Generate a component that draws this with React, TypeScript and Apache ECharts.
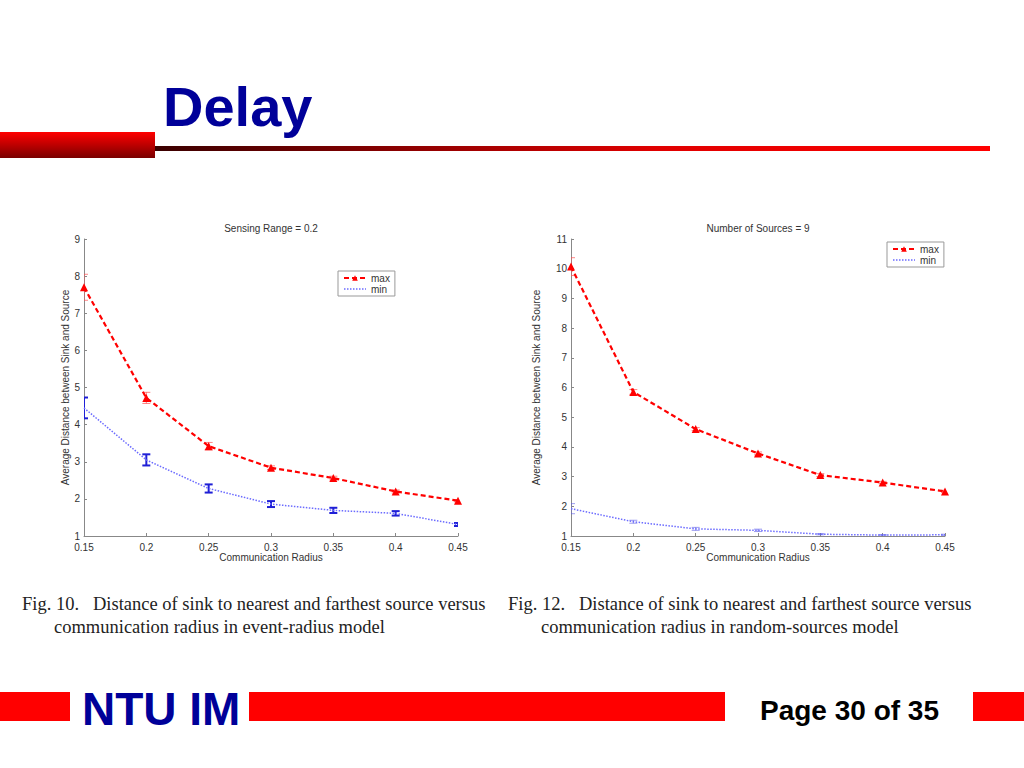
import React, { useEffect, useRef } from "react";
import * as echarts from "echarts";

// ---- data ----
const radius = [0.15, 0.2, 0.25, 0.3, 0.35, 0.4, 0.45];

const leftMax = [7.7, 4.72, 3.42, 2.84, 2.56, 2.2, 1.95];
const leftMaxErr = [0.35, 0.15, 0.1, 0.05, 0.05, 0.04, 0.03];
const leftMin = [4.45, 3.05, 2.28, 1.86, 1.69, 1.61, 1.31];
const leftMinErr = [0.28, 0.15, 0.11, 0.08, 0.07, 0.06, 0.04];

const rightMax = [10.07, 5.85, 4.6, 3.78, 3.05, 2.8, 2.5];
const rightMaxErr = [0.3, 0.08, 0.05, 0.05, 0.05, 0.04, 0.04];
const rightMin = [1.92, 1.48, 1.24, 1.19, 1.06, 1.03, 1.04];
const rightMinErr = [0.17, 0.05, 0.05, 0.04, 0.02, 0.02, 0.02];

const leftTitle = "Sensing Range = 0.2";
const rightTitle = "Number of Sources = 9";
const xName = "Communication Radius";
const yName = "Average Distance between Sink and Source";
const caption1 = [
  "Fig. 10.   Distance of sink to nearest and farthest source versus",
  "communication radius in event-radius model",
];
const caption2 = [
  "Fig. 12.   Distance of sink to nearest and farthest source versus",
  "communication radius in random-sources model",
];

const pairs = (ys: number[]) => radius.map((x, i) => [x, ys[i]]);
const errPairs = (ys: number[], es: number[]) =>
  radius.map((x, i) => [x, ys[i] - es[i], ys[i] + es[i]]);

const errSeries = (
  ys: number[],
  es: number[],
  idx: number,
  color: string,
  width: number
) => ({
  type: "custom",
  xAxisIndex: idx,
  yAxisIndex: idx,
  silent: true,
  z: 1,
  clip: true,
  data: errPairs(ys, es),
  renderItem: (params: any, api: any) => {
    const x = api.value(0);
    const p1 = api.coord([x, api.value(1)]);
    const p2 = api.coord([x, api.value(2)]);
    const w = 4;
    const style = { stroke: color, lineWidth: width };
    return {
      type: "group",
      children: [
        { type: "line", shape: { x1: p1[0], y1: p1[1], x2: p2[0], y2: p2[1] }, style },
        { type: "line", shape: { x1: p1[0] - w, y1: p1[1], x2: p1[0] + w, y2: p1[1] }, style },
        { type: "line", shape: { x1: p2[0] - w, y1: p2[1], x2: p2[0] + w, y2: p2[1] }, style },
      ],
    };
  },
});

const FS = 10;
const MIN_COLOR = "#6b6bff";
const axisCommon = {
  axisLine: { show: true, lineStyle: { color: "#888", width: 1 } },
  axisTick: { show: true, inside: true, length: 3, lineStyle: { color: "#888" } },
  splitLine: { show: false },
  axisLabel: { color: "#333", fontSize: FS, fontFamily: "Liberation Sans" },
  nameTextStyle: { color: "#333", fontSize: FS, fontFamily: "Liberation Sans" },
};

const xAxis = (idx: number) => ({
  ...axisCommon,
  type: "value",
  gridIndex: idx,
  min: 0.15,
  max: 0.45,
  interval: 0.05,
  name: xName,
  nameLocation: "middle",
  nameGap: 13,
  axisLabel: { ...axisCommon.axisLabel, margin: 6, formatter: (v: number) => String(+v.toFixed(2)) },
});

const yAxis = (idx: number, max: number, gap: number) => ({
  ...axisCommon,
  type: "value",
  gridIndex: idx,
  min: 1,
  max,
  interval: 1,
  name: yName,
  nameLocation: "middle",
  nameGap: gap,
  axisLabel: { ...axisCommon.axisLabel, margin: 4 },
});

const maxLine = (ys: number[], idx: number) => ({
  name: "max",
  type: "line",
  xAxisIndex: idx,
  yAxisIndex: idx,
  data: pairs(ys),
  symbol: "triangle",
  symbolSize: 8,
  z: 3,
  itemStyle: { color: "#ff0000" },
  lineStyle: { color: "#ff0000", width: 2.2, type: [5, 3] },
});

const minLine = (ys: number[], idx: number) => ({
  name: "min",
  type: "line",
  xAxisIndex: idx,
  yAxisIndex: idx,
  data: pairs(ys),
  symbol: "none",
  z: 2,
  itemStyle: { color: MIN_COLOR },
  lineStyle: { color: MIN_COLOR, width: 1.5, type: "dotted" },
});

const legend = (left: number, top: number) => ({
  data: [
    { name: "max" },
    {
      name: "min",
      itemStyle: { color: "transparent", borderColor: "transparent", borderWidth: 0 },
      lineStyle: { color: MIN_COLOR, width: 1.5, type: "dotted" },
    },
  ],
  left,
  top,
  orient: "vertical",
  borderColor: "#999",
  borderWidth: 1,
  backgroundColor: "#fff",
  padding: [2, 5],
  itemGap: 1,
  itemWidth: 22,
  itemHeight: 7,
  textStyle: { color: "#333", fontSize: FS, fontFamily: "Liberation Sans" },
});

const text = (
  t: string,
  x: number,
  y: number,
  font: string,
  fill: string,
  align: string = "left"
) => ({
  type: "text",
  x,
  y,
  style: { text: t, font, fill, align, verticalAlign: "middle" },
});

export default function App() {
  const ref = useRef<HTMLDivElement>(null);
  useEffect(() => {
    if (!ref.current) return;
    const chart = echarts.init(ref.current, null, { renderer: "svg" });
    const serif = '18.5px "Liberation Serif"';
    chart.setOption({
      animation: false,
      backgroundColor: "#fff",
      grid: [
        { left: 84, top: 239, width: 374, height: 297 },
        { left: 571, top: 239, width: 374, height: 297 },
      ],
      xAxis: [xAxis(0), xAxis(1)],
      yAxis: [yAxis(0, 9, 7), yAxis(1, 11, 30)],
      legend: [legend(338, 271), legend(887, 242)],
      series: [
        errSeries(leftMax, leftMaxErr, 0, "rgba(255,80,80,0.7)", 1),
        errSeries(leftMin, leftMinErr, 0, "#1f1fd6", 2),
        maxLine(leftMax, 0),
        minLine(leftMin, 0),
        errSeries(rightMax, rightMaxErr, 1, "rgba(255,80,80,0.7)", 1),
        errSeries(rightMin, rightMinErr, 1, "rgba(90,90,230,0.6)", 1),
        maxLine(rightMax, 1),
        minLine(rightMin, 1),
      ],
      graphic: [
        {
          type: "rect",
          shape: { x: 0, y: 132, width: 155, height: 26 },
          style: {
            fill: new echarts.graphic.LinearGradient(0, 0, 0, 1, [
              { offset: 0, color: "#ff0000" },
              { offset: 1, color: "#7a0000" },
            ]),
          },
        },
        {
          type: "rect",
          shape: { x: 155, y: 146, width: 835, height: 5 },
          style: {
            fill: new echarts.graphic.LinearGradient(0, 0, 1, 0, [
              { offset: 0, color: "#3a0000" },
              { offset: 0.6, color: "#e00000" },
              { offset: 1, color: "#ff0000" },
            ]),
          },
        },
        text("Delay", 163, 106, 'bold 56px "Liberation Sans"', "#000099"),
        text(leftTitle, 271, 228, FS + 'px "Liberation Sans"', "#333", "center"),
        text(rightTitle, 758, 228, FS + 'px "Liberation Sans"', "#333", "center"),
        text(caption1[0], 22, 604, serif, "#222"),
        text(caption1[1], 54, 627, serif, "#222"),
        text(caption2[0], 508, 604, serif, "#222"),
        text(caption2[1], 541, 627, serif, "#222"),
        { type: "rect", shape: { x: 0, y: 692, width: 70, height: 29 }, style: { fill: "#ff0000" } },
        { type: "rect", shape: { x: 249, y: 692, width: 476, height: 29 }, style: { fill: "#ff0000" } },
        { type: "rect", shape: { x: 973, y: 692, width: 51, height: 29 }, style: { fill: "#ff0000" } },
        text("NTU IM", 82, 709, 'bold 46px "Liberation Sans"', "#000099"),
        text("Page 30 of 35", 760, 710, 'bold 28px "Liberation Sans"', "#000"),
      ],
    });
    return () => chart.dispose();
  }, []);
  return (
    <div
      ref={ref}
      style={{ position: "fixed", left: 0, top: 0, width: 1024, height: 768, background: "#fff" }}
    />
  );
}
